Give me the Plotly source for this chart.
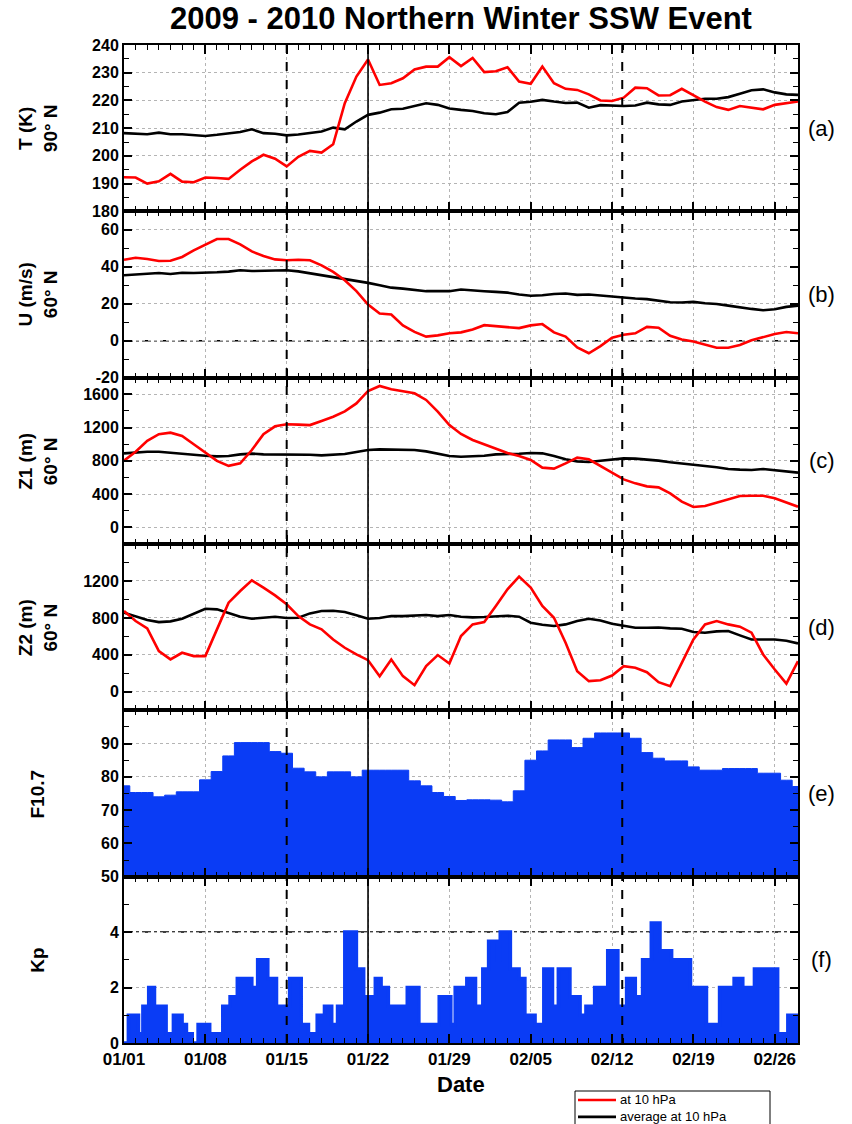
import pandas as pd
import plotly.graph_objects as go
from plotly.subplots import make_subplots

# ---------------- data ----------------
X_START = "2010-01-01"
X_END = "2010-02-28"
days = pd.date_range(X_START, periods=59, freq="D")

T_red = [192.3, 192.2, 190.0, 190.8, 193.5, 190.7, 190.5, 192.2, 192.0, 191.7,
         195.0, 198.0, 200.4, 199.0, 196.2, 199.7, 201.8, 201.2, 204.2, 219.0,
         228.6, 234.8, 225.6, 226.2, 228.0, 231.2, 232.2, 232.2, 235.6, 232.4,
         235.3, 230.2, 230.5, 232.0, 226.8, 226.0, 232.2, 226.2, 224.2, 223.8,
         222.2, 220.0, 219.8, 221.0, 224.6, 224.4, 221.8, 221.9, 224.2, 221.8,
         219.6, 217.6, 216.6, 218.0, 217.4, 216.8, 218.4, 219.0, 219.6]
T_avg = [208.2, 208.0, 207.8, 208.4, 207.8, 207.8, 207.5, 207.2, 207.6, 208.0,
         208.6, 209.6, 208.2, 208.0, 207.4, 207.7, 208.2, 208.8, 210.2, 209.6,
         212.4, 214.8, 215.6, 216.8, 217.0, 218.0, 219.0, 218.4, 217.1, 216.6,
         216.2, 215.4, 215.0, 215.8, 219.2, 219.5, 220.2, 219.6, 219.1, 219.2,
         217.4, 218.3, 218.2, 218.0, 218.2, 219.2, 218.6, 218.4, 219.6, 220.2,
         220.6, 220.6, 221.2, 222.4, 223.7, 224.0, 222.9, 222.2, 222.0]

U_red = [43.8, 44.9, 44.2, 43.1, 43.3, 45.3, 48.9, 52.1, 55.0, 55.0,
         52.1, 48.3, 45.8, 44.0, 43.5, 43.8, 43.5, 40.8, 37.2, 32.7,
         26.8, 19.6, 14.7, 14.2, 8.3, 4.8, 2.2, 2.9, 4.0, 4.5,
         6.1, 8.4, 7.9, 7.0, 6.8, 8.3, 9.0, 4.5, 2.2, -3.6,
         -6.8, -2.9, 1.6, 3.2, 4.0, 7.5, 7.0, 2.7, 0.7, -0.4,
         -2.0, -3.8, -3.8, -2.3, 0.2, 1.8, 3.6, 4.7, 4.0]
U_avg = [35.4, 35.9, 36.5, 36.6, 36.1, 36.8, 36.6, 36.6, 37.0, 37.4,
         38.1, 37.7, 37.7, 38.1, 38.1, 37.5, 36.5, 35.2, 34.3, 33.2,
         32.2, 31.3, 30.0, 28.7, 28.2, 27.5, 26.8, 26.8, 26.8, 27.7,
         27.1, 26.8, 26.4, 26.0, 25.0, 24.3, 24.6, 25.3, 25.5, 24.8,
         25.0, 24.4, 23.7, 23.4, 22.8, 22.5, 21.7, 20.8, 20.7, 21.0,
         20.3, 19.9, 19.0, 18.0, 17.2, 16.5, 17.0, 18.3, 19.0]

Z1_red = [802, 910, 1040, 1120, 1139, 1100, 1000, 900, 800, 740,
          770, 930, 1120, 1215, 1240, 1235, 1230, 1280, 1330, 1395,
          1490, 1640, 1700, 1660, 1636, 1612, 1532, 1391, 1231, 1123,
          1051, 998, 946, 894, 858, 810, 718, 706, 770, 838,
          818, 738, 658, 577, 529, 493, 481, 409, 309, 245,
          257, 297, 345, 377, 381, 381, 349, 297, 249]
Z1_avg = [890, 902, 910, 910, 898, 878, 866, 862, 854, 858,
          878, 886, 878, 878, 882, 878, 874, 866, 874, 882,
          906, 930, 938, 938, 938, 930, 914, 882, 858, 850,
          854, 862, 878, 878, 886, 894, 890, 858, 818, 794,
          786, 802, 818, 830, 826, 818, 802, 782, 770, 758,
          738, 722, 702, 694, 690, 702, 690, 678, 658]

Z2_red = [875, 766, 687, 441, 351, 423, 387, 387, 676, 965,
          1091, 1207, 1128, 1044, 947, 820, 730, 676, 567, 477,
          405, 343, 170, 351, 170, 72, 278, 398, 307, 604,
          730, 755, 929, 1110, 1247, 1128, 929, 802, 531, 224,
          116, 126, 177, 278, 260, 213, 105, 61, 314, 567,
          730, 766, 730, 705, 640, 405, 242, 90, 332]
Z2_avg = [857, 813, 777, 755, 763, 791, 849, 900, 893, 849,
          813, 791, 806, 813, 799, 802, 849, 875, 878, 864,
          828, 791, 799, 820, 820, 828, 831, 820, 831, 813,
          806, 810, 813, 824, 813, 748, 726, 712, 730, 766,
          791, 773, 737, 712, 694, 694, 697, 687, 683, 647,
          640, 654, 658, 611, 567, 567, 567, 553, 524]

F107 = [77.3, 75.3, 75.3, 74.0, 74.5, 75.5, 75.5, 79.1, 81.6, 86.3,
        90.3, 90.3, 90.3, 87.6, 87.1, 82.6, 81.5, 80.0, 81.5, 81.5,
        80.0, 82.0, 82.0, 82.0, 82.0, 78.8, 77.3, 75.3, 74.1, 72.9,
        73.1, 73.1, 73.0, 72.5, 75.8, 85.0, 87.8, 91.1, 91.1, 88.8,
        91.6, 93.2, 93.2, 93.2, 91.6, 87.3, 85.6, 84.8, 84.8, 83.0,
        82.0, 82.0, 82.5, 82.5, 82.5, 81.1, 81.1, 79.0, 77.1]

# Kp: hours since 2010-01-01 00 UT where a new value starts, and the value
kp_hours = [0, 9, 30, 39, 51, 63, 87, 102, 120, 129,
            141, 153, 177, 204, 219, 234, 264, 276, 297, 315,
            342, 366, 381, 399, 414, 429, 441, 456, 480, 495,
            519, 531, 546, 585, 609, 651, 675, 684, 708, 726,
            741, 753, 771, 777, 798, 816, 828, 849, 867, 885,
            897, 921, 942, 954, 972, 999, 1020, 1038, 1056, 1071,
            1089, 1107, 1131, 1170, 1203, 1230, 1260, 1278, 1302, 1350,
            1365, 1371, 1392]
kp_vals = [0, 1.0, 0.33, 1.33, 2.0, 1.33, 0.33, 1.0, 0.67, 0.33,
           0, 0.67, 0.33, 1.33, 1.67, 2.33, 2.0, 3.0, 2.33, 1.33,
           2.33, 0.67, 0.33, 1.0, 1.33, 0.67, 1.33, 4.0, 2.67, 1.67,
           2.33, 2.0, 1.33, 2.0, 0.67, 1.67, 0.67, 2.0, 2.33, 1.33,
           2.67, 3.67, 3.0, 4.0, 2.67, 2.33, 1.0, 0.67, 2.67, 1.33,
           2.67, 1.67, 1.0, 1.33, 2.0, 3.33, 1.33, 2.33, 1.67, 3.0,
           4.33, 3.33, 3.0, 2.0, 0.67, 2.0, 2.33, 2.0, 2.67, 0.33,
           0, 1.0, 1.0]

event_dashed = ["2010-01-15", "2010-02-12 21:00"]
event_solid = ["2010-01-22"]

panel_titles = ["T (K)<br>90° N", "U (m/s)<br>60° N", "Z1 (m)<br>60° N",
                "Z2 (m)<br>60° N", "F10.7", "Kp"]
panel_tags = ["(a)", "(b)", "(c)", "(d)", "(e)", "(f)"]
legend_names = ["at 10 hPa", "average at 10 hPa"]

# ---------------- figure ----------------
FONT = "Liberation Sans, Arial, sans-serif"
RED = "#ff0000"
BLACK = "#000000"
BLUE = "#0a3cf5"
GRID = "#b4b4b4"

fig = make_subplots(rows=6, cols=1, shared_xaxes=True, vertical_spacing=0)

pairs = [(T_red, T_avg), (U_red, U_avg), (Z1_red, Z1_avg), (Z2_red, Z2_avg)]
for i, (red, avg) in enumerate(pairs, start=1):
    fig.add_trace(go.Scatter(x=days, y=avg, mode="lines", name=legend_names[1],
                             line=dict(color=BLACK, width=2.6), showlegend=False), row=i, col=1)
    fig.add_trace(go.Scatter(x=days, y=red, mode="lines", name=legend_names[0],
                             line=dict(color=RED, width=2.6), showlegend=False), row=i, col=1)

fig.add_trace(go.Scatter(x=days, y=F107, mode="lines", line=dict(shape="hvh", color=BLUE, width=1),
                         fill="tozeroy", fillcolor=BLUE, showlegend=False), row=5, col=1)

kp_time = pd.Timestamp(X_START) + pd.to_timedelta(kp_hours, unit="h")
fig.add_trace(go.Scatter(x=kp_time, y=kp_vals, mode="lines", line=dict(shape="hv", color=BLUE, width=3.5),
                         fill="tozeroy", fillcolor=BLUE, showlegend=False), row=6, col=1)

tickfont = dict(family=FONT, size=16, color="black", weight="bold")

fig.update_xaxes(type="date", range=[X_START, X_END], tick0=X_START, dtick=7 * 86400000,
                 tickformat="%m/%d", ticks="inside", ticklen=9, tickwidth=1.5, tickcolor="black",
                 showline=True, linewidth=2, linecolor="black", mirror="ticks",
                 showgrid=True, gridcolor=GRID, griddash="dot", gridwidth=1, zeroline=False,
                 minor=dict(dtick=86400000, tick0=X_START, ticks="inside", ticklen=5, tickwidth=1.2,
                            tickcolor="black", showgrid=False),
                 tickfont=dict(family=FONT, size=17, color="black", weight="bold"))

yspecs = [
    dict(range=[180, 240], tickvals=[180, 190, 200, 210, 220, 230, 240], minor=5),
    dict(range=[-20, 70], tickvals=[-20, 0, 20, 40, 60], minor=10),
    dict(range=[-200, 1800], tickvals=[0, 400, 800, 1200, 1600], minor=200),
    dict(range=[-200, 1600], tickvals=[0, 400, 800, 1200], minor=200),
    dict(range=[50, 100], tickvals=[50, 60, 70, 80, 90], minor=5),
    dict(range=[0, 6], tickvals=[0, 2, 4], minor=1),
]
for i, s in enumerate(yspecs, start=1):
    fig.update_yaxes(range=s["range"], tickmode="array", tickvals=s["tickvals"],
                     ticktext=[str(v) for v in s["tickvals"]],
                     ticks="inside", ticklen=8, tickwidth=1.5, tickcolor="black",
                     showline=True, linewidth=2, linecolor="black", mirror="ticks",
                     showgrid=True, gridcolor=GRID, griddash="dot", gridwidth=1, zeroline=False,
                     minor=dict(dtick=s["minor"], tick0=0, ticks="inside", ticklen=5, tickwidth=1.2,
                                tickcolor="black", showgrid=False),
                     tickfont=tickfont, row=i, col=1)

shapes = []
for d in event_dashed:
    shapes.append(dict(type="line", xref="x", yref="paper", x0=d, x1=d, y0=0, y1=1,
                       line=dict(color="black", width=2, dash="dash"), layer="above"))
for d in event_solid:
    shapes.append(dict(type="line", xref="x", yref="paper", x0=d, x1=d, y0=0, y1=1,
                       line=dict(color="black", width=1.6), layer="above"))
shapes.append(dict(type="line", xref="x2 domain", yref="y2", x0=0, x1=1, y0=0, y1=0,
                   line=dict(color="black", width=1.5, dash="dashdot"), layer="below"))
shapes.append(dict(type="line", xref="x6 domain", yref="y6", x0=0, x1=1, y0=4, y1=4,
                   line=dict(color="black", width=1.5, dash="dashdot"), layer="below"))

# hand-drawn legend box below the axes (pixel layout converted to paper coords)
PL, PW, PB, PH = 124, 674, 1043, 998
def px(x):
    return (x - PL) / PW
def py(y):
    return (PB - y) / PH

LEG_FS = 13
LEG_TOP = 1091
row_gap = 1.3 * LEG_FS
row_y = [LEG_TOP + 9, LEG_TOP + 9 + row_gap]

shapes.append(dict(type="rect", xref="paper", yref="paper", x0=px(575), x1=px(770),
                   y0=py(LEG_TOP), y1=py(1134), line=dict(color="black", width=1),
                   fillcolor="white", layer="above"))
for col, yy in zip([RED, BLACK], row_y):
    shapes.append(dict(type="line", xref="paper", yref="paper", x0=px(578), x1=px(616),
                       y0=py(yy), y1=py(yy), line=dict(color=col, width=2.6), layer="above"))

annotations = [dict(text="<br>".join(legend_names), xref="paper", yref="paper", x=px(619),
                    y=py((row_y[0] + row_y[1]) / 2), xanchor="left", yanchor="middle",
                    align="left", showarrow=False, borderpad=0,
                    font=dict(family=FONT, size=LEG_FS, color="black"))]

for i in range(6):
    yax = fig.layout["yaxis" if i == 0 else f"yaxis{i + 1}"]
    yc = (yax.domain[0] + yax.domain[1]) / 2
    annotations.append(dict(text=panel_titles[i], xref="paper", yref="paper", x=-0.1276, y=yc,
                            xanchor="center", yanchor="middle", textangle=-90, showarrow=False,
                            font=dict(family=FONT, size=19, color="black", weight="bold")))
    annotations.append(dict(text=panel_tags[i], xref="paper", yref="paper", x=1.0356, y=yc,
                            xanchor="center", yanchor="middle", showarrow=False,
                            font=dict(family=FONT, size=22, color="black")))
annotations.append(dict(text="Date", xref="paper", yref="paper", x=0.5, y=-0.042,
                        xanchor="center", yanchor="middle", showarrow=False,
                        font=dict(family=FONT, size=22, color="black", weight="bold")))

fig.update_layout(
    width=852, height=1124, autosize=False,
    margin=dict(l=124, r=54, t=45, b=81, autoexpand=False),
    paper_bgcolor="white", plot_bgcolor="white",
    title=dict(text="2009 - 2010 Northern Winter SSW Event", x=0.541, y=0.984,
               xanchor="center", yanchor="middle",
               font=dict(family=FONT, size=31, color="black", weight="bold")),
    shapes=shapes, annotations=annotations,
    showlegend=False,
)

fig.write_html("out.html")
